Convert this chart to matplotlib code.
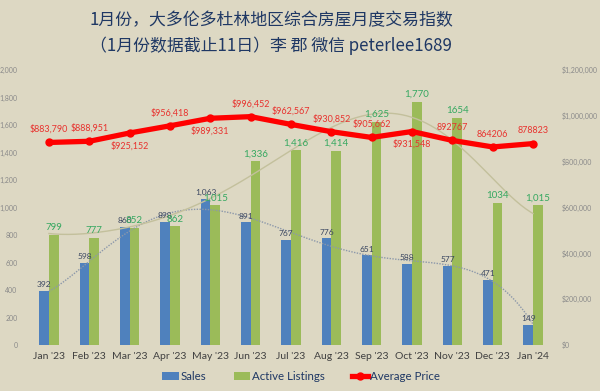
import numpy as np
import matplotlib
matplotlib.use("Agg")
import matplotlib.pyplot as plt
from matplotlib.patches import Patch
from matplotlib.lines import Line2D

plt.rcParams['font.family'] = ['Lato', 'Noto Sans CJK SC', 'DejaVu Sans']

months = ["Jan '23", "Feb '23", "Mar '23", "Apr '23", "May '23", "Jun '23", "Jul '23",
          "Aug '23", "Sep '23", "Oct '23", "Nov '23", "Dec '23", "Jan '24"]
sales = [392, 598, 860, 898, 1063, 891, 767, 776, 651, 588, 577, 471, 149]
listings = [799, 777, 852, 862, 1015, 1336, 1416, 1414, 1625, 1770, 1654, 1034, 1015]
# trendline of active listings at each month
listings_trend = [807, 826, 850, 930, 1070, 1250, 1418, 1564, 1665, 1680, 1490, 1200, 960]
prices = [883790, 888951, 925152, 956418, 989331, 996452, 962567, 930852, 905662,
          931548, 892767, 864206, 878823]
sales_labels = ["392", "598", "860", "898", "1,063", "891", "767", "776", "651", "588", "577", "471", "149"]
listing_labels = ["799", "777", "852", "862", "1,015", "1,336", "1,416", "1,414", "1,625", "1,770", "1654", "1034", "1,015"]
price_labels = ["$883,790", "$888,951", "$925,152", "$956,418", "$989,331", "$996,452", "$962,567",
                "$930,852", "$905,662", "$931,548", "892767", "864206", "878823"]
price_label_above = [True, True, False, True, False, True, True, True, True, False, True, True, True]

left_ticks = [0, 200, 400, 600, 800, 1000, 1200, 1400, 1600, 1800, 2000]
right_ticks = [0, 200000, 400000, 600000, 800000, 1000000, 1200000]
right_tick_labels = ["$0", "$200,000", "$400,000", "$600,000", "$800,000", "$1,000,000", "$1,200,000"]

title1 = "1月份，大多伦多杜林地区综合房屋月度交易指数"
title2 = "（1月份数据截止11日）李 郡 微信 peterlee1689"

BG = "#DDD8C3"
BLUE = "#4F81BD"
GREEN = "#9BBB59"
RED = "#FF0000"

fig = plt.figure(figsize=(6, 3.91), dpi=100, facecolor=BG)
ax = fig.add_axes([0.048, 0.1176, 0.874, 0.7034], facecolor=BG)
ax2 = ax.twinx()

x = np.arange(len(months))
w = 0.24
ax.bar(x - w / 2, sales, width=w, color=BLUE, zorder=2)
ax.bar(x + w / 2, listings, width=w, color=GREEN, zorder=2)

# polynomial trendlines
xs = np.linspace(0, len(months) - 1, 200)
ps = np.polyfit(x, sales, 6)
pl = np.polyfit(x, listings_trend, 6)
ax.plot(xs, np.polyval(ps, xs), color="#8C98AA", lw=1.0, ls=(0, (1, 1)), zorder=3)
ax.plot(xs, np.polyval(pl, xs), color="#C3C09C", lw=1.0, zorder=3)

for i in range(len(months)):
    ax.annotate(sales_labels[i], (x[i] - w / 2, sales[i]), xytext=(0, 2), textcoords="offset points",
                ha="center", va="bottom", fontsize=6, color="#3A4660", zorder=5)
    ax.annotate(listing_labels[i], (x[i] + w / 2, listings[i]), xytext=(0, 2), textcoords="offset points",
                ha="center", va="bottom", fontsize=7, color="#35A860", zorder=5)

ax.set_xlim(-0.5, len(months) - 0.5)
ax.set_ylim(0, 2000)
ax.set_yticks(left_ticks)
ax.set_yticklabels([f"{t:,}" for t in left_ticks])
ax.set_xticks(x)
ax.set_xticklabels(months)
ax.tick_params(axis="y", labelsize=5, colors="#8A8A8A", length=0, pad=8)
ax.tick_params(axis="x", labelsize=7.5, colors="#404040", length=0, pad=5)
for s in ax.spines.values():
    s.set_visible(False)

ax2.plot(x, prices, color=RED, lw=3.8, marker="o", markersize=5, zorder=6,
         solid_joinstyle="round", solid_capstyle="round")
for i in range(len(months)):
    dy = 6 if price_label_above[i] else -6
    ax2.annotate(price_labels[i], (x[i], prices[i]), xytext=(0, dy), textcoords="offset points",
                 ha="center", va="bottom" if price_label_above[i] else "top",
                 fontsize=6.5, color="#E8322E", zorder=7)
ax2.set_ylim(0, 1200000)
ax2.set_yticks(right_ticks)
ax2.set_yticklabels(right_tick_labels)
ax2.tick_params(axis="y", labelsize=5, colors="#8A8A8A", length=0, pad=6)
for s in ax2.spines.values():
    s.set_visible(False)

fig.text(0.452, 0.948, title1, ha="center", va="center", fontsize=12.2, color="#1F3864",
         family=['Noto Sans CJK SC', 'DejaVu Sans'])
fig.text(0.452, 0.882, title2, ha="center", va="center", fontsize=12.2, color="#1F3864",
         family=['Noto Sans CJK SC', 'DejaVu Sans'])

handles = [Patch(facecolor=BLUE), Patch(facecolor=GREEN),
           Line2D([0], [0], color=RED, lw=3.8, marker="o", markersize=5)]
fig.legend(handles, ["Sales", "Active Listings", "Average Price"], loc="center",
           bbox_to_anchor=(0.502, 0.038), ncol=3, frameon=False, fontsize=8.3,
           handlelength=1.4, handletextpad=0.15, columnspacing=2.4, labelcolor="#1F3864")

fig.savefig("out.png", dpi=100, facecolor=BG)
